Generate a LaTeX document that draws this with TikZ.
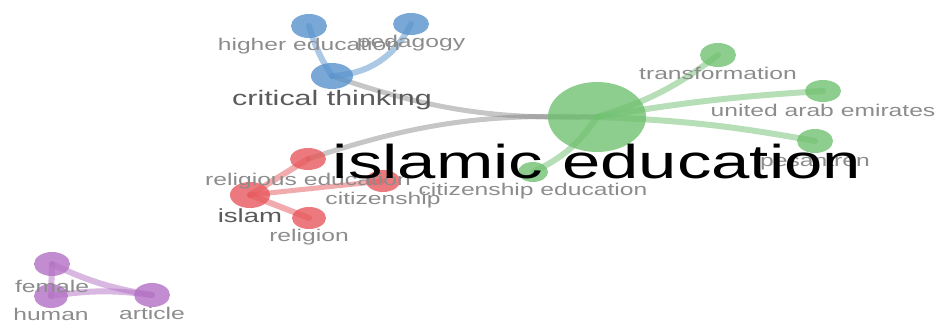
\documentclass[tikz,border=0pt]{standalone}
\usepackage{fontspec}
\setmainfont{Liberation Sans}
\newfontfamily\vosfont[FakeStretch=1.45]{Liberation Sans}
\usetikzlibrary{shapes.geometric,positioning}
\pgfdeclarelayer{edges}
\pgfsetlayers{edges,main}
\definecolor{vblue}{RGB}{88,146,204}
\definecolor{vgreen}{RGB}{112,192,112}
\definecolor{vred}{RGB}{230,88,92}
\definecolor{vpurple}{RGB}{178,112,196}
\definecolor{vgray}{RGB}{140,140,140}
\definecolor{vdark}{RGB}{90,90,90}
\begin{document}
\begin{tikzpicture}[x=1pt,y=-1pt,
        bub/.style={ellipse,inner sep=0pt,fill=#1,fill opacity=0.8},
        lbl/.style={text=vgray,font=\vosfont\fontsize{17}{17}\selectfont,inner sep=0pt,text height=12.5pt,text depth=3.5pt},
        lnk/.style={line width=6pt,draw=#1,draw opacity=0.5,line cap=round}]
        \useasboundingbox (0,0) rectangle (937,324);
        % blue cluster
        \node[bub=vblue,minimum width=42,minimum height=26] (ct) at (332,76) {};
        \node[bub=vblue,minimum width=36,minimum height=24] (he) at (309,26) {};
        \node[bub=vblue,minimum width=36,minimum height=22] (ped) at (411,24) {};
        % green cluster
        \node[bub=vgreen,minimum width=98,minimum height=70] (ie) at (597,117) {};
        \node[bub=vgreen,minimum width=36,minimum height=24] (tr) at (718,55) {};
        \node[bub=vgreen,minimum width=36,minimum height=22] (uae) at (823,91) {};
        \node[bub=vgreen,minimum width=36,minimum height=24] (pes) at (815,141) {};
        \node[bub=vgreen,minimum width=30,minimum height=20] (cedu) at (533,172) {};
        % red cluster
        \node[bub=vred,minimum width=36,minimum height=22] (re) at (308,159) {};
        \node[bub=vred,minimum width=40,minimum height=26] (isl) at (250,195) {};
        \node[bub=vred,minimum width=34,minimum height=22] (rel) at (309,218) {};
        \node[bub=vred,minimum width=34,minimum height=22] (cit) at (383,181) {};
        % purple cluster
        \node[bub=vpurple,minimum width=36,minimum height=24] (fem) at (52,264) {};
        \node[bub=vpurple,minimum width=34,minimum height=24] (hum) at (51,296) {};
        \node[bub=vpurple,minimum width=36,minimum height=24] (art) at (152,295) {};
        % links
        \begin{pgfonlayer}{edges}
        \draw[lnk=gray,line width=5pt,draw opacity=0.45] (ct.center) to[bend right=10] (ie.center);
        \draw[lnk=gray,line width=5pt,draw opacity=0.45] (re.center) to[bend left=10] (ie.center);
        \draw[lnk=vblue] (ct.center) to[bend left=8] (he.center);
        \draw[lnk=vblue] (ct.center) to[bend right=30] (ped.center);
        \draw[lnk=vgreen] (ie.center) to[bend right=10] (tr.center);
        \draw[lnk=vgreen] (ie.center) to[bend left=3] (uae.center);
        \draw[lnk=vgreen] (ie.center) to[bend left=4] (pes.center);
        \draw[lnk=vgreen] (ie.center) to[bend left=15] (cedu.center);
        \draw[lnk=vred] (isl.center) -- (re.center);
        \draw[lnk=vred] (isl.center) -- (rel.center);
        \draw[lnk=vred,line width=5pt] (isl.center) -- (cit.center);
        \draw[lnk=vpurple] (fem.center) -- (hum.center);
        \draw[lnk=vpurple] (fem.center) to[bend right=8] (art.center);
        \draw[lnk=vpurple] (hum.center) to[bend left=8] (art.center);
        \end{pgfonlayer}
        % labels
        \node[lbl,below=0pt of he] (he-l) {higher education};
        \node[lbl,below=0pt of ped] (ped-l) {pedagogy};
        \node[lbl,text=vdark,font=\vosfont\fontsize{21}{21}\selectfont,text height=15pt,below=1pt of ct] (ct-l) {critical thinking};
        \node[lbl,below=0pt of tr] (tr-l) {transformation};
        \node[lbl,below=2pt of uae] (uae-l) {united arab emirates};
        \node[lbl,below=1pt of pes] (pes-l) {pesantren};
        \node[lbl,below=1pt of cedu] (cedu-l) {citizenship education};
        \node[lbl,below=3pt of re] (re-l) {religious education};
        \node[lbl,below=0pt of cit] (cit-l) {citizenship};
        \node[lbl,below=0pt of rel] (rel-l) {religion};
        \node[lbl,text=vdark,font=\vosfont\fontsize{19}{19}\selectfont,text height=14pt,below=0pt of isl] (isl-l) {islam};
        \node[lbl,below=4pt of fem] (fem-l) {female};
        \node[lbl,below=0pt of hum] (hum-l) {human};
        \node[lbl,below=0pt of art] (art-l) {article};
        \node[lbl,text=black,font=\vosfont\fontsize{47.5}{47.5}\selectfont,text height=35pt,text depth=0pt,below=-9pt of ie] (ie-l) {islamic education};
\end{tikzpicture}
\end{document}
